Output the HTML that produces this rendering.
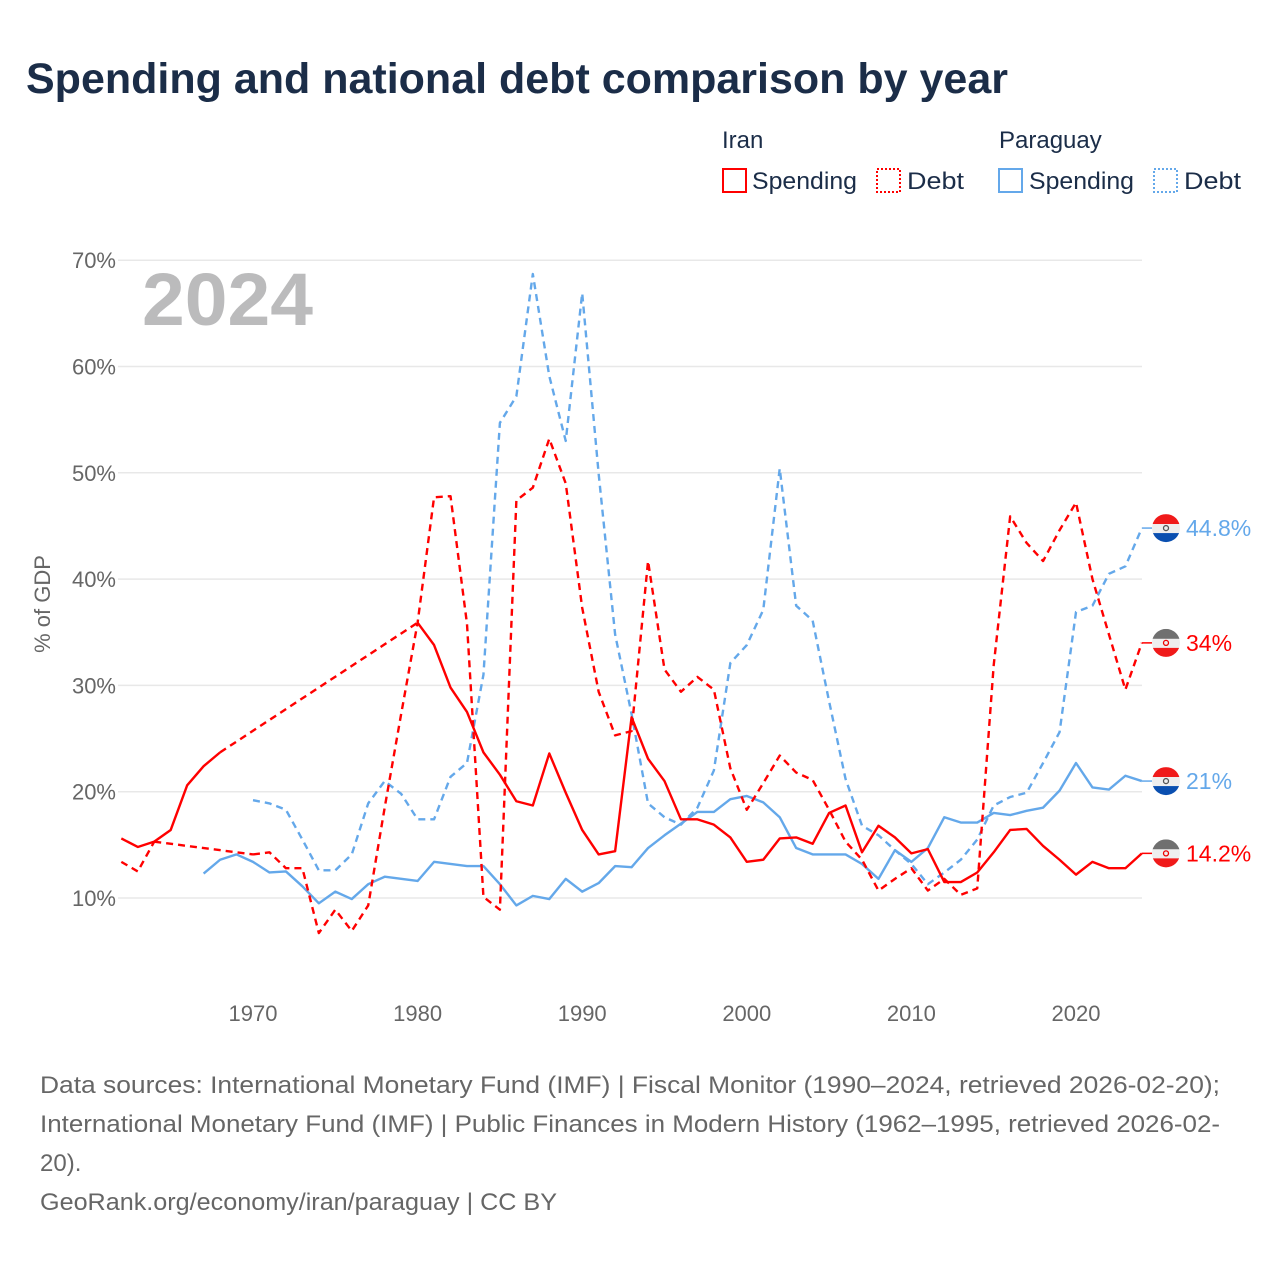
<!DOCTYPE html>
<html><head><meta charset="utf-8">
<style>
body{margin:0;background:#fff;width:1280px;height:1280px;overflow:hidden;font-family:"Liberation Sans",sans-serif;}
</style></head>
<body>
<svg id="chart" width="1280" height="1280" viewBox="0 0 1280 1280" xmlns="http://www.w3.org/2000/svg" font-family="Liberation Sans, sans-serif">
<text x="26" y="93" font-size="43" font-weight="bold" fill="#1b2d48">Spending and national debt comparison by year</text>
<g font-size="24" fill="#1b2d48">
<text x="722" y="148">Iran</text>
<text x="999" y="148">Paraguay</text>
<g><rect x="723" y="169" width="23" height="23" fill="none" stroke="#f00" stroke-width="2"/><text x="752" y="189" textLength="105" lengthAdjust="spacingAndGlyphs">Spending</text></g>
<g><rect x="877" y="169" width="23" height="23" fill="none" stroke="#f00" stroke-width="2" stroke-dasharray="2,2"/><text x="907" y="189" textLength="57" lengthAdjust="spacingAndGlyphs">Debt</text></g>
<g><rect x="999" y="169" width="23" height="23" fill="none" stroke="#64a8ea" stroke-width="2"/><text x="1029" y="189" textLength="105" lengthAdjust="spacingAndGlyphs">Spending</text></g>
<g><rect x="1154" y="169" width="23" height="23" fill="none" stroke="#64a8ea" stroke-width="2" stroke-dasharray="2,2"/><text x="1184" y="189" textLength="57" lengthAdjust="spacingAndGlyphs">Debt</text></g>
</g>
<text x="142" y="325" font-size="74" font-weight="bold" fill="#bbbbbc" textLength="171" lengthAdjust="spacingAndGlyphs">2024</text>
<text transform="translate(50,604) rotate(-90)" text-anchor="middle" font-size="22" fill="#666">% of GDP</text>
<g id="grid"></g><g id="yt"></g><g id="xt"></g><g id="lines"></g><g id="ends"></g>
<g font-size="24" fill="#666">
<text x="40" y="1093" textLength="1180" lengthAdjust="spacingAndGlyphs">Data sources: International Monetary Fund (IMF) | Fiscal Monitor (1990–2024, retrieved 2026-02-20);</text>
<text x="40" y="1132" textLength="1180" lengthAdjust="spacingAndGlyphs">International Monetary Fund (IMF) | Public Finances in Modern History (1962–1995, retrieved 2026-02-</text>
<text x="40" y="1171">20).</text>
<text x="40" y="1210" textLength="517" lengthAdjust="spacingAndGlyphs">GeoRank.org/economy/iran/paraguay | CC BY</text>
</g>
</svg>
<script>
const years=[];for(let y=1962;y<=2024;y++)years.push(y);
const yTicks=[10,20,30,40,50,60,70];
const xTicks=[1970,1980,1990,2000,2010,2020];
const iranSpending=[15.6,14.8,15.3,16.4,20.6,22.4,23.7,null,null,null,null,null,null,null,null,null,null,null,35.9,33.8,29.8,27.5,23.7,21.6,19.1,18.7,23.6,19.9,16.4,14.1,14.4,27.0,23.1,21.0,17.4,17.4,16.9,15.7,13.4,13.6,15.6,15.7,15.1,18.0,18.7,14.3,16.8,15.7,14.2,14.6,11.5,11.5,12.4,14.3,16.4,16.5,14.9,13.6,12.2,13.4,12.8,12.8,14.2];
const iranDebt=[13.4,12.5,15.3,null,null,null,null,null,14.1,14.3,12.8,12.8,6.7,8.9,6.9,9.3,18.5,27.3,35.9,47.7,47.8,35.8,10.1,8.9,47.4,48.6,53.2,49.0,37.3,29.4,25.3,25.7,41.7,31.5,29.4,30.8,29.6,22.2,18.3,20.8,23.4,21.8,21.1,18.3,15.3,13.6,10.7,11.8,12.8,10.7,11.8,10.3,10.9,31.9,45.9,43.4,41.7,44.6,47.2,40.0,34.8,29.6,34.0];
const paraSpending=[null,null,null,null,null,12.3,13.6,14.1,13.4,12.4,12.5,11.1,9.5,10.6,9.9,11.3,12.0,11.8,11.6,13.4,13.2,13.0,13.0,11.3,9.3,10.2,9.9,11.8,10.6,11.4,13.0,12.9,14.7,15.9,17.0,18.1,18.1,19.3,19.6,19.0,17.6,14.7,14.1,14.1,14.1,13.2,11.8,14.5,13.4,14.7,17.6,17.1,17.1,18.0,17.8,18.2,18.5,20.1,22.7,20.4,20.2,21.5,21.0];
const paraDebt=[null,null,null,null,null,null,null,null,19.2,18.9,18.3,15.5,12.6,12.6,14.1,18.9,21.0,19.8,17.4,17.4,21.4,22.7,31.0,54.7,57.2,68.7,59.1,53.0,66.9,49.9,34.8,27.3,18.9,17.6,16.9,18.5,22.0,32.1,33.8,37.1,50.4,37.5,36.1,28.5,21.2,16.8,15.9,14.5,13.2,11.3,12.4,13.6,15.5,18.7,19.5,19.9,22.7,25.6,36.9,37.5,40.5,41.2,44.8];
const labels=["44.8%","34%","21%","14.2%"];

const NS="http://www.w3.org/2000/svg";
const X=y=>253+(y-1970)*16.46;
const Y=v=>898-(v-10)*10.63;
function mk(t,a,p){const e=document.createElementNS(NS,t);for(const k in a)e.setAttribute(k,a[k]);p.appendChild(e);return e;}
const grid=document.getElementById('grid'),yt=document.getElementById('yt'),xt=document.getElementById('xt');
yTicks.forEach(v=>{
 const l=mk('line',{x1:118,x2:1142,y1:Y(v),y2:Y(v),stroke:'#e8e8e8','stroke-width':1.5},grid);
 
 
 const t=mk('text',{x:116,y:Y(v)+8,'text-anchor':'end','font-size':22,fill:'#666'},yt);
 t.textContent=v+'%';
 
 
});
xTicks.forEach(y=>{
 const t=mk('text',{x:X(y),y:1021,'text-anchor':'middle','font-size':22,fill:'#666'},xt);
 t.textContent=y;
 
 
});
const lines=document.getElementById('lines');
function draw(data,color,dashed,name){
 const g=mk('g',{},lines);
 
 
 let segs=[],cur=[],prev=null,gaps=[];
 data.forEach((v,i)=>{
  if(v==null){if(cur.length){segs.push(cur);cur=[];}return;}
  const p=[X(years[i]),Y(v)];
  if(prev&&prev.i!==i-1)gaps.push([prev.p,p]);
  cur.push(p);prev={i,p};
 });
 if(cur.length)segs.push(cur);
 const da=dashed?'7,5':'none';
 segs.forEach(s=>{mk('polyline',{points:s.map(p=>p.join(',')).join(' '),fill:'none',stroke:color,'stroke-width':2.4,'stroke-dasharray':da,'stroke-linejoin':'round'},g);});
 gaps.forEach(([a,b])=>{mk('line',{x1:a[0],y1:a[1],x2:b[0],y2:b[1],stroke:color,'stroke-width':2.4,'stroke-dasharray':'7,5'},g);});
}
draw(paraDebt,'#64a8ea',true,'paraguay-debt-line');
draw(paraSpending,'#64a8ea',false,'paraguay-spending-line');
draw(iranDebt,'#f00',true,'iran-debt-line');
draw(iranSpending,'#f00',false,'iran-spending-line');
const ends=document.getElementById('ends');
const endSeries=[[paraDebt,'para','#64a8ea'],[iranDebt,'iran','#f00'],[paraSpending,'para','#64a8ea'],[iranSpending,'iran','#f00']];
endSeries.forEach((s,k)=>{
 const v=s[0][s[0].length-1],cy=Y(v),cx=1166;
 const g=mk('g',{},ends);
 
 
 mk('line',{x1:X(2024),y1:cy,x2:cx-14,y2:cy,stroke:s[2],'stroke-width':1.5},g);
 const top=s[1]==='para'?'#f01a1a':'#707070',bot=s[1]==='para'?'#0a4fb0':'#f01a1a';
 const id='c'+k;
 const cp=mk('clipPath',{id:id},g);mk('circle',{cx:cx,cy:cy,r:14},cp);
 const fg=mk('g',{'clip-path':'url(#'+id+')'},g);
 mk('rect',{x:cx-14,y:cy-14,width:28,height:10,fill:top},fg);
 mk('rect',{x:cx-14,y:cy-4,width:28,height:9,fill:'#eee'},fg);
 mk('rect',{x:cx-14,y:cy+5,width:28,height:10,fill:bot},fg);
 mk('circle',{cx:cx,cy:cy,r:2.5,fill:'none',stroke:s[1]==='para'?'#555':'#e00','stroke-width':1.3},g);
 const t=mk('text',{x:1186,y:cy+8,'font-size':23,fill:s[2]},g);
 t.textContent=labels[k];
});
</script>
</body></html>
